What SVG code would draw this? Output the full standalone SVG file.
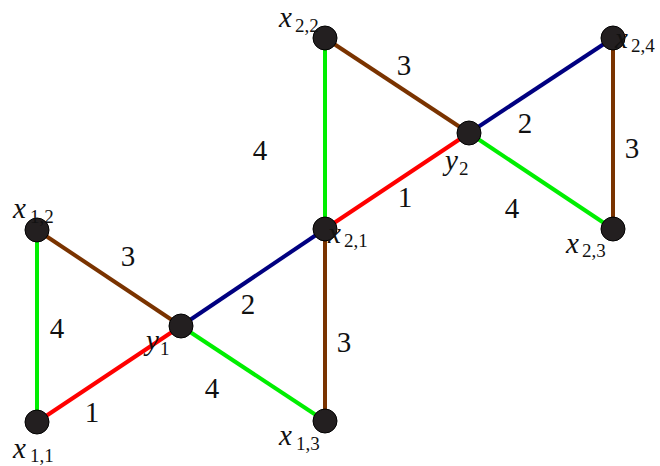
<svg xmlns="http://www.w3.org/2000/svg" width="660" height="466" viewBox="0 0 660 466">
<style>
.e{stroke-width:4;stroke-linecap:butt;fill:none}
.g{stroke:#00ee00}.r{stroke:#ff0000}.b{stroke:#000080}.n{stroke:#7a3300}
.node circle{fill:#231f20;stroke:#000;stroke-width:1}
.w{font-size:29px;text-anchor:middle}
.v{font-size:29px;font-style:italic}
.s{font-size:19px;font-style:normal}
</style>
<rect width="660" height="466" fill="#fff"/>
<g id="connectors" font-family="'Liberation Serif', 'DejaVu Serif', 'Times New Roman', serif" fill="#111">
<line class="e g" x1="37" y1="422" x2="37" y2="230"/>
<line class="e n" x1="37" y1="230" x2="181" y2="326"/>
<line class="e r" x1="37" y1="422" x2="181" y2="326"/>
<line class="e b" x1="181" y1="326" x2="325" y2="229"/>
<line class="e g" x1="181" y1="326" x2="325" y2="421"/>
<line class="e n" x1="325" y1="229" x2="325" y2="421"/>
<line class="e g" x1="325" y1="229" x2="325" y2="38"/>
<line class="e n" x1="325" y1="38" x2="469" y2="133"/>
<line class="e r" x1="325" y1="229" x2="469" y2="133"/>
<line class="e b" x1="469" y1="133" x2="613" y2="38"/>
<line class="e g" x1="469" y1="133" x2="613" y2="229"/>
<line class="e n" x1="613" y1="38" x2="613" y2="229"/>
<text class="w" x="57" y="338">4</text>
<text class="w" x="128" y="266">3</text>
<text class="w" x="92" y="422">1</text>
<text class="w" x="212" y="398">4</text>
<text class="w" x="248" y="314">2</text>
<text class="w" x="344" y="352">3</text>
<text class="w" x="260" y="160">4</text>
<text class="w" x="404" y="75">3</text>
<text class="w" x="405" y="207">1</text>
<text class="w" x="525" y="133">2</text>
<text class="w" x="512" y="218">4</text>
<text class="w" x="632" y="158">3</text>
</g>
<g id="nodes" font-family="'Liberation Serif', 'DejaVu Serif', 'Times New Roman', serif" fill="#111">
<g id="x11" class="node"><circle cx="37" cy="422" r="12"/><text class="v" x="13" y="458">x<tspan class="s" x="30" y="462">1,1</tspan></text></g>
<g id="x12" class="node"><circle cx="37" cy="230" r="12"/><text class="v" x="13" y="218">x<tspan class="s" x="30" y="223">1,2</tspan></text></g>
<g id="y1" class="node"><circle cx="181" cy="326" r="12"/><text class="v" x="146" y="350">y<tspan class="s" x="160" y="355">1</tspan></text></g>
<g id="x13" class="node"><circle cx="325" cy="421" r="12"/><text class="v" x="279" y="445">x<tspan class="s" x="296" y="450">1,3</tspan></text></g>
<g id="x21" class="node"><circle cx="325" cy="229" r="12"/><text class="v" x="328" y="243">x<tspan class="s" x="344" y="247">2,1</tspan></text></g>
<g id="x22" class="node"><circle cx="325" cy="38" r="12"/><text class="v" x="279" y="27">x<tspan class="s" x="295" y="32">2,2</tspan></text></g>
<g id="y2" class="node"><circle cx="469" cy="133" r="12"/><text class="v" x="445" y="170">y<tspan class="s" x="459" y="175">2</tspan></text></g>
<g id="x24" class="node"><circle cx="613" cy="38" r="12"/><text class="v" x="615" y="48">x<tspan class="s" x="631" y="52">2,4</tspan></text></g>
<g id="x23" class="node"><circle cx="613" cy="229" r="12"/><text class="v" x="566" y="253">x<tspan class="s" x="582" y="257">2,3</tspan></text></g>
</g>
</svg>
